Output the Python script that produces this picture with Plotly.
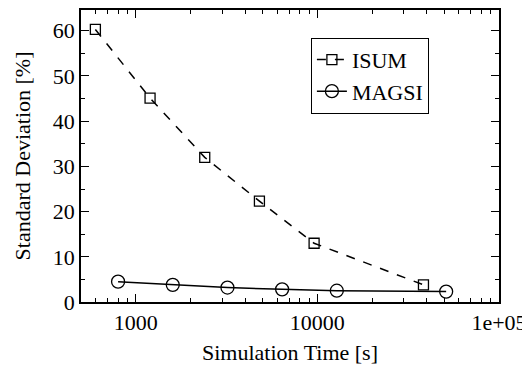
import plotly.graph_objects as go
import math

isum_x = [600, 1200, 2400, 4800, 9600, 38400]
isum_y = [60.3, 45.1, 32.0, 22.3, 13.0, 3.8]
magsi_x = [800, 1600, 3200, 6400, 12800, 51200]
magsi_y = [4.5, 3.8, 3.2, 2.8, 2.5, 2.3]
x_tickvals = [1000, 10000, 100000]
x_ticktext = ["1000", "10000", "1e+05"]

font = "Liberation Serif"

fig = go.Figure()
fig.add_trace(go.Scatter(
    x=isum_x, y=isum_y, name="ISUM", mode="lines+markers",
    line=dict(color="black", width=1.5, dash="dash"),
    marker=dict(symbol="square-open", size=10, color="black", line=dict(width=1.3)),
))
fig.add_trace(go.Scatter(
    x=magsi_x, y=magsi_y, name="MAGSI", mode="lines+markers",
    line=dict(color="black", width=1.5),
    marker=dict(symbol="circle-open", size=13, color="black", line=dict(width=1.3)),
))

fig.update_layout(
    width=522, height=357,
    margin=dict(l=73, r=31, t=2, b=63),
    paper_bgcolor="white", plot_bgcolor="white",
    font=dict(family=font, size=22, color="black"),
    showlegend=True,
    legend=dict(x=0.55, y=0.905, xanchor="left", yanchor="top",
                bgcolor="white", bordercolor="black", borderwidth=1,
                font=dict(size=22), tracegroupgap=0, itemwidth=30),
    xaxis=dict(
        type="log", range=[math.log10(500), 5.0002], automargin=False,
        tickvals=x_tickvals, ticktext=x_ticktext,
        ticks="inside", ticklen=8, tickwidth=1, tickcolor="black",
        showline=True, linecolor="black", linewidth=1.5, mirror="ticks",
        showgrid=False, zeroline=False,
        minor=dict(ticks="inside", ticklen=4, tickcolor="black", showgrid=False,
                   tickvals=[500, 600, 700, 800, 900, 2000, 3000, 4000, 5000, 6000, 7000, 8000, 9000,
                             20000, 30000, 40000, 50000, 60000, 70000, 80000, 90000]),
        title=dict(text="Simulation Time [s]", font=dict(size=22), standoff=12),
    ),
    yaxis=dict(
        range=[0, 64.6], automargin=False,
        tickvals=[0, 10, 20, 30, 40, 50, 60],
        ticks="inside", ticklen=8, tickwidth=1, tickcolor="black",
        showline=True, linecolor="black", linewidth=1.5, mirror="ticks",
        showgrid=False, zeroline=False,
        minor=dict(ticks="inside", ticklen=4, tickcolor="black", dtick=5, tick0=0, showgrid=False),
        title=dict(text="Standard Deviation [%]", font=dict(size=22), standoff=16),
    ),
)

fig.write_html("out.html")
